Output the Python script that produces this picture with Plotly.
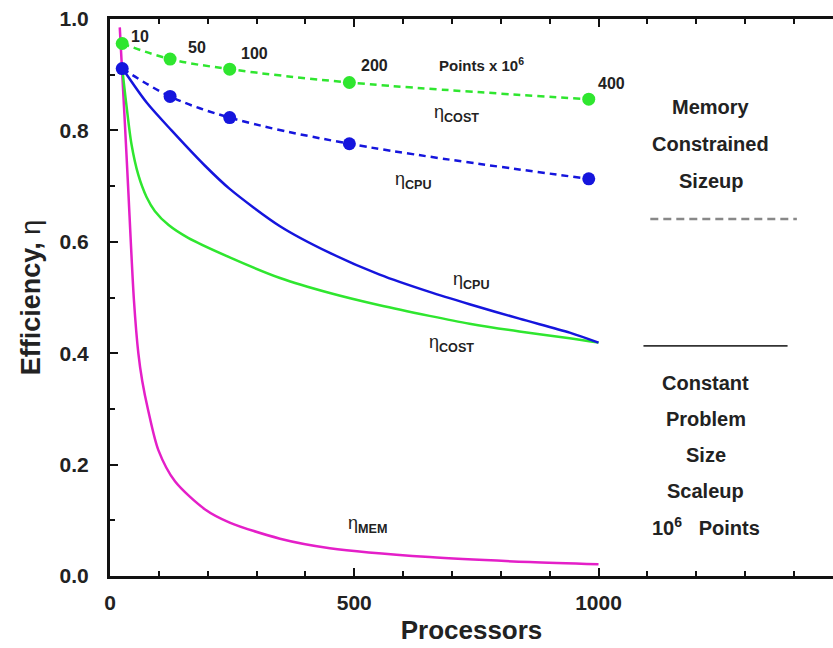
import plotly.graph_objects as go

# Memory constrained sizeup (dashed with markers)
size_procs = [25, 123, 245, 490, 980]
size_points_labels = ["10", "50", "100", "200", "400"]
size_cost = [0.956, 0.928, 0.910, 0.886, 0.856]
size_cpu = [0.911, 0.861, 0.823, 0.776, 0.713]

# Constant problem size scaleup (solid)
cpu_procs = [25, 75, 126, 194, 245, 348, 450, 552, 654, 736, 838, 941, 1000]
cpu_eff = [0.912, 0.85, 0.800, 0.737, 0.695, 0.628, 0.580, 0.541, 0.510, 0.488, 0.462, 0.437, 0.419]

cost_procs = [25, 33, 44, 58, 75, 92, 120, 160, 245, 348, 450, 552, 654, 736, 838, 941, 1000]
cost_eff = [0.912, 0.85, 0.775, 0.720, 0.68, 0.655, 0.630, 0.607, 0.572, 0.535, 0.508, 0.486, 0.467, 0.453, 0.439, 0.427, 0.419]

mem_procs = [20, 30, 37, 49, 58, 66, 78, 99, 133, 194, 245, 348, 450, 654, 859, 1000]
mem_eff = [0.985, 0.82, 0.70, 0.495, 0.40, 0.35, 0.298, 0.226, 0.170, 0.120, 0.096, 0.067, 0.050, 0.034, 0.025, 0.021]

GREEN = "#2fe62f"
BLUE = "#1515dd"
MAGENTA = "#e41fc8"
FONT = "Liberation Sans, Arial, Helvetica, sans-serif"
TXT = "#222"

fig = go.Figure()
fig.add_trace(go.Scatter(x=mem_procs, y=mem_eff, mode="lines", line=dict(color=MAGENTA, width=2.5, shape="spline", smoothing=0.8), showlegend=False))
fig.add_trace(go.Scatter(x=cost_procs, y=cost_eff, mode="lines", line=dict(color=GREEN, width=2.5, shape="spline", smoothing=0.8), showlegend=False))
fig.add_trace(go.Scatter(x=cpu_procs, y=cpu_eff, mode="lines", line=dict(color=BLUE, width=2.5, shape="spline", smoothing=0.8), showlegend=False))
fig.add_trace(go.Scatter(x=size_procs, y=size_cost, mode="lines+markers", line=dict(color=GREEN, width=2.5, dash="7px,5px", shape="spline"),
                         marker=dict(size=13, color=GREEN), showlegend=False))
fig.add_trace(go.Scatter(x=size_procs, y=size_cpu, mode="lines+markers", line=dict(color=BLUE, width=2.5, dash="7px,5px", shape="spline"),
                         marker=dict(size=13, color=BLUE), showlegend=False))

ann = []
label_offsets = [(18, 7), (27, 12), (25, 16), (25, 17), (23, 16)]
for p, v, t, (dx, dy) in zip(size_procs, size_cost, size_points_labels, label_offsets):
    ann.append(dict(x=p, y=v, text="<b>" + t + "</b>", showarrow=False, xshift=dx, yshift=dy,
                    xanchor="center", font=dict(size=16, family=FONT, color=TXT)))
ann.append(dict(x=760, y=0.918, text="<b>Points x 10<sup>6</sup></b>", showarrow=False, xanchor="center",
                font=dict(size=15, family=FONT, color=TXT)))

def eta(sub):
    return "η<sub><b>" + sub + "</b></sub>"

for x, y, s in [(710, 0.83, "COST"), (622, 0.71, "CPU"), (740, 0.53, "CPU"), (700, 0.418, "COST"), (527, 0.093, "MEM")]:
    ann.append(dict(x=x, y=y, text=eta(s), showarrow=False, font=dict(size=18, family=FONT, color=TXT)))

for y, t in [(0.842, "Memory"), (0.776, "Constrained"), (0.709, "Sizeup")]:
    ann.append(dict(x=1230, y=y, text="<b>" + t + "</b>", showarrow=False, font=dict(size=20, family=FONT, color=TXT)))
for y, t in [(0.347, "Constant"), (0.282, "Problem"), (0.218, "Size"), (0.153, "Scaleup")]:
    ann.append(dict(x=1220, y=y, text="<b>" + t + "</b>", showarrow=False, font=dict(size=20, family=FONT, color=TXT)))
ann.append(dict(x=1220, y=0.088, text="<b>10<sup>6</sup>   Points</b>", showarrow=False, font=dict(size=20, family=FONT, color=TXT)))

shapes = [
    dict(type="line", xref="x", yref="y", x0=1106, x1=1406, y0=0.641, y1=0.641, line=dict(color="#888", width=2.5, dash="8px,5px")),
    dict(type="line", xref="x", yref="y", x0=1092, x1=1387, y0=0.413, y1=0.413, line=dict(color="#333", width=1.8)),
]

fig.update_layout(
    width=833, height=648,
    margin=dict(l=110, r=0, t=19, b=72),
    plot_bgcolor="white", paper_bgcolor="white",
    annotations=ann, shapes=shapes,
    font=dict(family=FONT, color=TXT),
    xaxis=dict(range=[0, 1480], tickvals=[0, 500, 1000], ticks="inside", ticklen=8, tickwidth=2,
               tickcolor="#111", showline=True, linecolor="#111", linewidth=3, mirror="allticks",
               showgrid=False, zeroline=False, ticklabelstandoff=6,
               minor=dict(dtick=100, ticks="inside", ticklen=5, tickwidth=1.5, tickcolor="#111", showgrid=False),
               tickfont=dict(size=21, family=FONT, color=TXT, weight="bold"),
               title=dict(text="<b>Processors</b>", font=dict(size=26, family=FONT, color=TXT), standoff=8)),
    yaxis=dict(range=[0, 1.0], dtick=0.2, tickformat=".1f", ticks="inside", ticklen=8, tickwidth=2,
               tickcolor="#111", showline=True, linecolor="#111", linewidth=3, mirror=False,
               showgrid=False, zeroline=False, ticklabelstandoff=14,
               minor=dict(dtick=0.1, ticks="inside", ticklen=5, tickwidth=1.5, tickcolor="#111", showgrid=False),
               tickfont=dict(size=21, family=FONT, color=TXT, weight="bold"),
               title=dict(text="<b>Efficiency, </b>η", font=dict(size=27, family=FONT, color=TXT), standoff=12)),
)

fig.write_html("out.html")
